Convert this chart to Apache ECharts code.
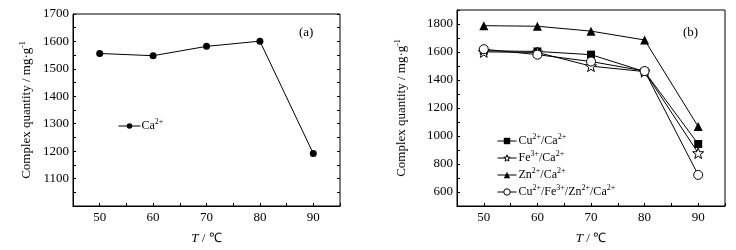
<!DOCTYPE html>
<html>
<head>
<meta charset="utf-8">
<script src="https://cdn.jsdelivr.net/npm/echarts@6/dist/echarts.min.js"></script>
<style>
  html, body { margin: 0; padding: 0; background: #fff; }
  #main { width: 736px; height: 250px; }
</style>
</head>
<body>
<div id="main"></div>
<script>
// data
var temps = [50, 60, 70, 80, 90];
var caOnly = [1556, 1548, 1582, 1601, 1191];
var cuCa = [1609, 1604, 1581, 1460, 943];
var feCa = [1601, 1597, 1499, 1460, 878];
var znCa = [1788, 1784, 1749, 1686, 1067];
var mixCa = [1620, 1581, 1532, 1464, 722];
var xTickLabels = [50, 60, 70, 80, 90];
var yTicksA = [1100, 1200, 1300, 1400, 1500, 1600, 1700];
var yTicksB = [600, 800, 1000, 1200, 1400, 1600, 1800];

var FONT = 'Liberation Serif';
var starPath = 'path://M50 0 L62 34 L97.5 34.5 L69 57 L79.4 90.5 L50 71 L20.6 90.5 L31 57 L2.5 34.5 L38 34 Z';

function pairs(arr) {
    return temps.map(function (t, i) { return [t, arr[i]]; });
}
function supName(name) {
    return name.replace(/(\d\+)/g, '{s|$1}');
}
var richSup = {
    s: {fontFamily: FONT, fontSize: 8, color: '#000', padding: [0, 0, 8, 0]}
};
var hollow = {color: '#fff', borderColor: '#000', borderWidth: 1};
var solid = {color: '#000', borderWidth: 0};

var chart = echarts.init(document.getElementById('main'));

function xAxis(idx) {
    return {
        type: 'value', gridIndex: idx, min: 45, max: 95, interval: 5,
        name: '{i|T} / ℃', nameLocation: 'middle', nameGap: 26,
        nameTextStyle: {
            fontFamily: FONT, fontSize: 13, color: '#000',
            rich: {i: {fontFamily: FONT, fontSize: 13, fontStyle: 'italic', color: '#000'}}
        },
        axisLine: {onZero: false, lineStyle: {color: '#000', width: 1}},
        axisTick: {inside: true, length: 3, lineStyle: {color: '#000'}},
        splitLine: {show: false},
        axisLabel: {
            fontFamily: FONT, fontSize: 13, color: '#000', margin: 5,
            formatter: function (v) { return xTickLabels.indexOf(v) >= 0 ? String(v) : ''; }
        }
    };
}
function yAxis(idx, min, max, step, ticks, gap) {
    return {
        type: 'value', gridIndex: idx, min: min, max: max, interval: step,
        name: 'Complex quantity / mg·g{s|-1}', nameLocation: 'middle', nameGap: gap,
        nameTextStyle: {fontFamily: FONT, fontSize: 13, color: '#000', rich: richSup},
        axisLine: {show: true, lineStyle: {color: '#000', width: 1}},
        axisTick: {inside: true, length: 3, lineStyle: {color: '#000'}},
        splitLine: {show: false},
        axisLabel: {
            fontFamily: FONT, fontSize: 13, color: '#000', margin: 4,
            formatter: function (v) { return ticks.indexOf(v) >= 0 ? String(v) : ''; }
        }
    };
}
function legendItem(name, style) {
    return {name: name, itemStyle: style};
}

var option = {
    animation: false,
    backgroundColor: '#fff',
    grid: [
        {left: 73, top: 14, width: 267, height: 199, show: true, borderColor: '#000', borderWidth: 1},
        {left: 457, top: 10, width: 268, height: 200, show: true, borderColor: '#000', borderWidth: 1}
    ],
    xAxis: [xAxis(0), xAxis(1)],
    yAxis: [
        yAxis(0, 1000, 1700, 50, yTicksA, 38),
        yAxis(1, 500, 1900, 100, yTicksB, 47),
        // right-hand ticks of panel (a)
        {
            type: 'value', gridIndex: 0, position: 'right', min: 1000, max: 1700, interval: 50,
            axisLine: {show: false}, axisLabel: {show: false}, splitLine: {show: false},
            axisTick: {inside: true, length: 3, lineStyle: {color: '#000'}}
        }
    ],
    legend: [
        {
            data: [legendItem('Ca2+', solid)], left: 113, top: 113, itemWidth: 22, itemHeight: 7,
            formatter: supName,
            lineStyle: {width: 1, color: '#000'},
            textStyle: {fontFamily: FONT, fontSize: 12, color: '#000', padding: [0, 0, 0, -4], rich: richSup}
        },
        {
            data: [
                legendItem('Cu2+/Ca2+', solid),
                legendItem('Fe3+/Ca2+', hollow),
                legendItem('Zn2+/Ca2+', solid),
                legendItem('Cu2+/Fe3+/Zn2+/Ca2+', hollow)
            ],
            orient: 'vertical', left: 492, top: 128, itemWidth: 19, itemHeight: 8, itemGap: 3,
            formatter: supName,
            lineStyle: {width: 1, color: '#000'},
            textStyle: {fontFamily: FONT, fontSize: 12, color: '#000', padding: [0, 0, 0, -3], rich: richSup}
        }
    ],
    graphic: [
        {type: 'text', left: 299, top: 26, style: {text: '(a)', font: '13px "Liberation Serif"', fill: '#000'}},
        {type: 'text', left: 683, top: 26, style: {text: '(b)', font: '13px "Liberation Serif"', fill: '#000'}}
    ],
    series: [
        {
            name: 'Ca2+', type: 'line', xAxisIndex: 0, yAxisIndex: 0, data: pairs(caOnly),
            symbol: 'circle', symbolSize: 7,
            lineStyle: {color: '#000', width: 1}, itemStyle: solid
        },
        {
            name: 'Cu2+/Ca2+', type: 'line', xAxisIndex: 1, yAxisIndex: 1, data: pairs(cuCa),
            symbol: 'rect', symbolSize: 8,
            lineStyle: {color: '#000', width: 1}, itemStyle: solid
        },
        {
            name: 'Fe3+/Ca2+', type: 'line', xAxisIndex: 1, yAxisIndex: 1, data: pairs(feCa),
            symbol: starPath, symbolSize: 11,
            lineStyle: {color: '#000', width: 1}, itemStyle: hollow
        },
        {
            name: 'Zn2+/Ca2+', type: 'line', xAxisIndex: 1, yAxisIndex: 1, data: pairs(znCa),
            symbol: 'triangle', symbolSize: 9,
            lineStyle: {color: '#000', width: 1}, itemStyle: solid
        },
        {
            name: 'Cu2+/Fe3+/Zn2+/Ca2+', type: 'line', xAxisIndex: 1, yAxisIndex: 1, data: pairs(mixCa),
            symbol: 'circle', symbolSize: 9,
            lineStyle: {color: '#000', width: 1}, itemStyle: hollow
        }
    ]
};

chart.setOption(option);
</script>
</body>
</html>
